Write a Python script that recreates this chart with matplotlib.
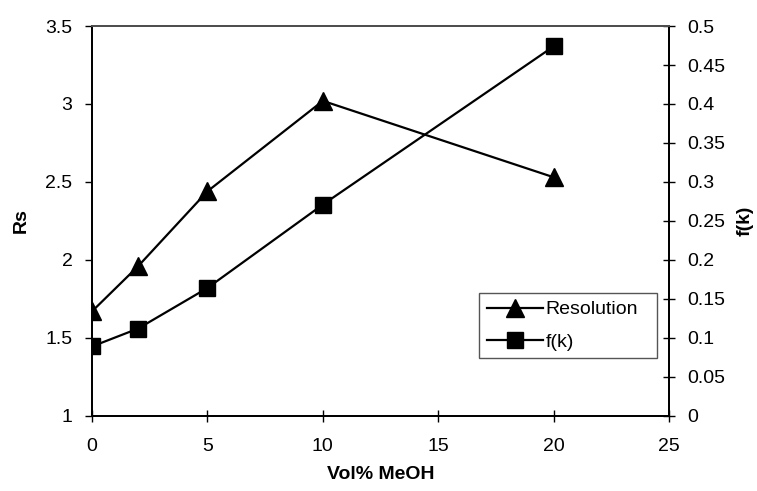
import matplotlib.pyplot as plt

plt.rcParams['font.family'] = ['Liberation Sans', 'DejaVu Sans']

meoh = [0, 2, 5, 10, 20]
resolution = [1.67, 1.96, 2.44, 3.02, 2.53]
fk = [0.089, 0.112, 0.164, 0.271, 0.474]

fs = 14

fig, ax = plt.subplots(figsize=(7.57, 4.91), dpi=100)
fig.subplots_adjust(left=0.1215, right=0.884, top=0.947, bottom=0.153)
ax2 = ax.twinx()

l1, = ax.plot(meoh, resolution, color='black', lw=1.6, marker='^', ms=13,
              label='Resolution')
l2, = ax2.plot(meoh, fk, color='black', lw=1.6, marker='s', ms=11,
               label='f(k)')

ax.set_xlim(0, 25)
ax.set_ylim(1, 3.5)
ax2.set_ylim(0, 0.5)
ax.set_xticks([0, 5, 10, 15, 20, 25])
ax.set_yticks([1, 1.5, 2, 2.5, 3, 3.5])
ax.set_yticklabels(['1', '1.5', '2', '2.5', '3', '3.5'])
ax2.set_yticks([0, 0.05, 0.1, 0.15, 0.2, 0.25, 0.3, 0.35, 0.4, 0.45, 0.5])
ax2.set_yticklabels(['0', '0.05', '0.1', '0.15', '0.2', '0.25', '0.3',
                     '0.35', '0.4', '0.45', '0.5'])

ax.tick_params(axis='y', direction='out', length=5, width=1, labelsize=fs, pad=9)
ax.tick_params(axis='x', direction='inout', length=8, width=1, labelsize=fs, pad=12)
ax2.tick_params(axis='y', direction='inout', length=8, width=1, labelsize=fs, pad=9)

for a in (ax, ax2):
    for s in a.spines.values():
        s.set_linewidth(1.3)
        s.set_color('black')
ax2.spines['top'].set_color('#555555')

ax.set_xlabel('Vol% MeOH', fontsize=fs, fontweight='bold', labelpad=8)
ax.set_ylabel('Rs', fontsize=fs, fontweight='bold', labelpad=11)
ax2.set_ylabel('f(k)', fontsize=fs, fontweight='bold', labelpad=8)

leg = ax2.legend(handles=[l1, l2], loc='upper left',
                 bbox_to_anchor=(0.671, 0.144, 0.308, 0.171), mode='expand',
                 fontsize=fs, frameon=True, fancybox=False, framealpha=1,
                 handlelength=2.9, handletextpad=0.1, borderpad=0.4,
                 labelspacing=0.75, borderaxespad=0)
leg.get_frame().set_edgecolor('#555555')
leg.get_frame().set_linewidth(1.0)

fig.savefig('out.png', dpi=100)
